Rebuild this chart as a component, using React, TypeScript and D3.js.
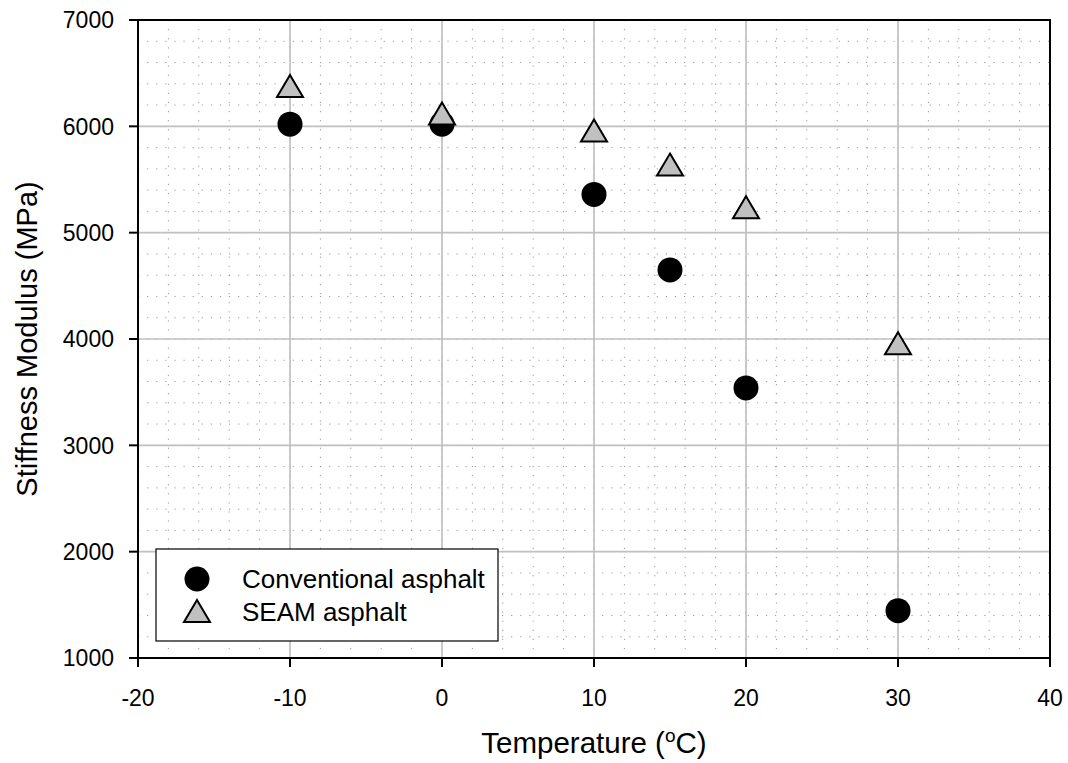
import React from "react";
import * as d3 from "d3";

const temperatures = [-10, 0, 10, 15, 20, 30];
const conventional = [6020, 6020, 5360, 4650, 3540, 1445];
const seam = [6380, 6120, 5960, 5640, 5240, 3960];
const xTicks = [-20, -10, 0, 10, 20, 30, 40];
const yTicks = [1000, 2000, 3000, 4000, 5000, 6000, 7000];
const seriesNames = ["Conventional asphalt", "SEAM asphalt"];

const W = 1068;
const H = 763;
const L = 138, R = 1050, T = 20, B = 658;

export default function App() {
  const x = d3.scaleLinear().domain([-20, 40]).range([L, R]);
  const y = d3.scaleLinear().domain([1000, 7000]).range([B, T]);
  const xMinor = d3.range(-20, 40.001, 2);
  const yMinor = d3.range(1000, 7000.001, 200);
  const font = "'Liberation Sans', Arial, sans-serif";
  const tri = (cx: number, cy: number) => {
    const w = 13, h = 11;
    return `M${cx},${cy - h}L${cx + w},${cy + h}L${cx - w},${cy + h}Z`;
  };
  return (
    <svg width={W} height={H} style={{ position: "absolute", left: 0, top: 0 }} fontFamily={font}>
      <rect x={0} y={0} width={W} height={H} fill="white" />
      {/* minor grid */}
      <g stroke="#999999" strokeWidth={1} strokeDasharray="1.2 7.9">
        {xMinor.map((v) => (
          <line key={"xm" + v} x1={x(v)} x2={x(v)} y1={T} y2={B} />
        ))}
        {yMinor.map((v) => (
          <line key={"ym" + v} x1={L} x2={R} y1={y(v)} y2={y(v)} />
        ))}
      </g>
      {/* major grid */}
      <g stroke="#c0c0c0" strokeWidth={1.7}>
        {xTicks.map((v) => (
          <line key={"xg" + v} x1={x(v)} x2={x(v)} y1={T} y2={B} />
        ))}
        {yTicks.map((v) => (
          <line key={"yg" + v} x1={L} x2={R} y1={y(v)} y2={y(v)} />
        ))}
      </g>
      {/* data */}
      {temperatures.map((t, i) => (
        <circle key={"c" + i} cx={x(t)} cy={y(conventional[i])} r={12.5} fill="black" />
      ))}
      {temperatures.map((t, i) => (
        <path key={"t" + i} d={tri(x(t), y(seam[i]))} fill="#c0c0c0" stroke="black" strokeWidth={2} strokeLinejoin="miter" />
      ))}
      {/* frame */}
      <rect x={L} y={T} width={R - L} height={B - T} fill="none" stroke="black" strokeWidth={2} />
      {/* ticks */}
      <g stroke="black" strokeWidth={2}>
        {xTicks.map((v) => (
          <line key={"xt" + v} x1={x(v)} x2={x(v)} y1={B} y2={B + 9} />
        ))}
        {yTicks.map((v) => (
          <line key={"yt" + v} x1={L - 9} x2={L} y1={y(v)} y2={y(v)} />
        ))}
      </g>
      <g fontSize={23} fill="black">
        {xTicks.map((v) => (
          <text key={"xl" + v} x={x(v)} y={706} textAnchor="middle">{v}</text>
        ))}
        {yTicks.map((v) => (
          <text key={"yl" + v} x={114} y={y(v)} dy="0.36em" textAnchor="end">{v}</text>
        ))}
      </g>
      <text x={(L + R) / 2} y={753} textAnchor="middle" fontSize={29.5}>
        Temperature (<tspan fontSize={19} dy={-11}>o</tspan><tspan dy={11}>C)</tspan>
      </text>
      <text transform={`translate(37,${(T + B) / 2}) rotate(-90)`} textAnchor="middle" fontSize={29}>
        Stiffness Modulus (MPa)
      </text>
      {/* legend */}
      <rect x={156} y={549} width={342} height={92} fill="white" stroke="black" strokeWidth={1.2} />
      <circle cx={197} cy={579} r={12.5} fill="black" />
      <path d={tri(197, 611)} fill="#c0c0c0" stroke="black" strokeWidth={2} />
      <text x={242} y={588} fontSize={26}>{seriesNames[0]}</text>
      <text x={242} y={621} fontSize={26}>{seriesNames[1]}</text>
    </svg>
  );
}
